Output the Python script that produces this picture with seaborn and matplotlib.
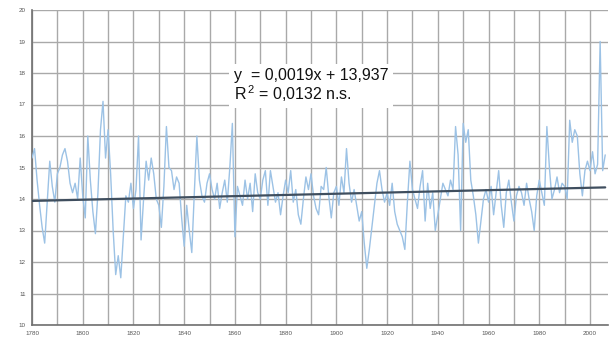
import numpy as np
import pandas as pd
import matplotlib
matplotlib.use("Agg")
import matplotlib.pyplot as plt
import seaborn as sns

# ---- data ----
start_year = 1780
values = [
    15.3, 15.6, 14.6, 13.8, 13.1, 12.6, 13.9, 15.2, 14.4, 13.9,
    14.8, 15.0, 15.4, 15.6, 15.2, 14.5, 14.2, 14.5, 14.0, 15.3,
    14.1, 13.4, 16.0, 14.6, 13.6, 12.9, 14.2, 16.2, 17.1, 15.3,
    16.2, 14.8, 13.0, 11.6, 12.2, 11.5, 12.8, 14.1, 13.9, 14.5,
    13.7, 14.3, 16.0, 12.7, 14.0, 15.2, 14.6, 15.3, 14.8, 14.0,
    13.8, 13.1, 14.4, 16.3, 15.0, 14.9, 14.3, 14.7, 14.5, 13.4,
    12.5, 13.8, 13.0, 12.3, 14.2, 16.0, 14.6, 14.1, 13.9, 14.5,
    14.8, 14.3, 14.0, 14.5, 13.7, 14.2, 14.6, 13.9, 15.0, 16.4,
    12.8, 14.4, 14.1, 13.8, 14.6, 14.0, 14.5, 13.6, 14.8, 14.2,
    14.0, 14.6, 14.9, 13.8, 14.9, 14.4, 13.9, 14.2, 13.5, 14.1,
    14.6, 14.2, 14.9, 13.9, 14.3, 13.5, 13.2, 14.0, 14.7, 14.3,
    14.8, 14.1, 13.7, 13.5, 14.4, 14.3, 15.0, 14.1, 13.4, 14.2,
    14.4, 13.8, 14.7, 14.2, 15.6, 14.5, 13.9, 14.3, 13.8, 13.3,
    13.6, 12.6, 11.8, 12.4, 13.1, 13.8, 14.5, 14.9, 14.3, 13.9,
    14.2, 13.8, 14.5, 13.6, 13.2, 13.0, 12.8, 12.4, 13.9, 15.2,
    14.3, 14.0, 13.7, 14.4, 14.9, 13.3, 14.5, 13.7, 14.2, 13.0,
    13.5, 14.0, 14.5, 14.3, 14.1, 14.6, 14.3, 16.3, 15.4, 13.0,
    16.4, 15.8, 16.2, 14.6, 14.1, 13.5, 12.6, 13.3, 14.0, 14.3,
    13.9, 14.4, 13.5, 14.2, 14.9, 13.8, 13.1, 14.2, 14.6, 13.9,
    13.3, 14.1, 14.4, 14.2, 13.8, 14.5, 14.0, 13.6, 13.0, 14.1,
    14.6, 14.2, 13.8, 16.3, 15.0, 14.0, 14.3, 14.7, 14.2, 14.5,
    14.4, 14.0, 16.5, 15.8, 16.2, 16.0, 14.8, 14.1, 14.9, 15.2,
    14.9, 15.5, 14.8, 15.1, 19.0, 14.9, 15.4,
]
years = list(range(start_year, start_year + len(values)))
slope = 0.0019
intercept = 13.937
x_ticks = list(range(1780, 2001, 20))
y_ticks = list(range(10, 21, 1))
eq_line1 = "y  = 0,0019x + 13,937"
eq_line2 = "R$^{\\,2}$ = 0,0132 n.s."

df = pd.DataFrame({"year": years, "value": values})
df["trend"] = intercept + slope * np.arange(1, len(values) + 1)

# ---- figure ----
sns.set_style("white")
plt.rcParams['font.family'] = ['Liberation Sans', 'DejaVu Sans']
plt.rcParams['mathtext.fontset'] = 'custom'
plt.rcParams['mathtext.rm'] = 'Liberation Sans'
plt.rcParams['mathtext.it'] = 'Liberation Sans'
plt.rcParams['mathtext.default'] = 'regular'
fig = plt.figure(figsize=(6.09, 3.39), dpi=100)
W, H = 609, 339
ax = fig.add_axes([32 / W, 1 - 325 / H, (608 - 32) / W, (325 - 10) / H])

ax.set_xlim(1780, 2007.1)
ax.set_ylim(10, 20)
ax.set_xticks(x_ticks)
ax.set_xticks(list(range(1780, 2008, 10)), minor=True)
ax.set_yticks(y_ticks)
ax.grid(True, which="both", axis="x", color="#a9a9a9", linewidth=1.0)
ax.grid(True, which="major", axis="y", color="#a9a9a9", linewidth=1.0)
ax.set_axisbelow(True)

sns.lineplot(data=df, x="year", y="value", ax=ax, color="#9cc2e5",
             linewidth=1.0, zorder=3)
sns.lineplot(data=df, x="year", y="trend", ax=ax, color="#3f4e5e",
             linewidth=1.6, zorder=4)

for s in ["top", "right"]:
    ax.spines[s].set_visible(False)
for s in ["left", "bottom"]:
    ax.spines[s].set_color("#707070")
    ax.spines[s].set_linewidth(1.2)

ax.set_xlabel("")
ax.set_ylabel("")
ax.tick_params(axis="both", which="major", labelsize=4.5, labelcolor="#555555",
               length=3, width=0.8, color="#707070", direction="inout", pad=3)
ax.tick_params(axis="x", which="minor", length=3, width=0.8, color="#707070",
               direction="inout")
ax.set_xticklabels([str(t) for t in x_ticks])
ax.set_yticklabels([str(t) for t in y_ticks])

fig.text(234 / W, 1 - 68 / H, eq_line1 + "\n" + eq_line2, fontsize=11.5,
         va="top", ha="left", color="#111111", linespacing=1.0,
         bbox=dict(boxstyle="square,pad=0.3", facecolor="white",
                   edgecolor="none"), zorder=10)

fig.savefig("out.png", dpi=100, facecolor="white")
